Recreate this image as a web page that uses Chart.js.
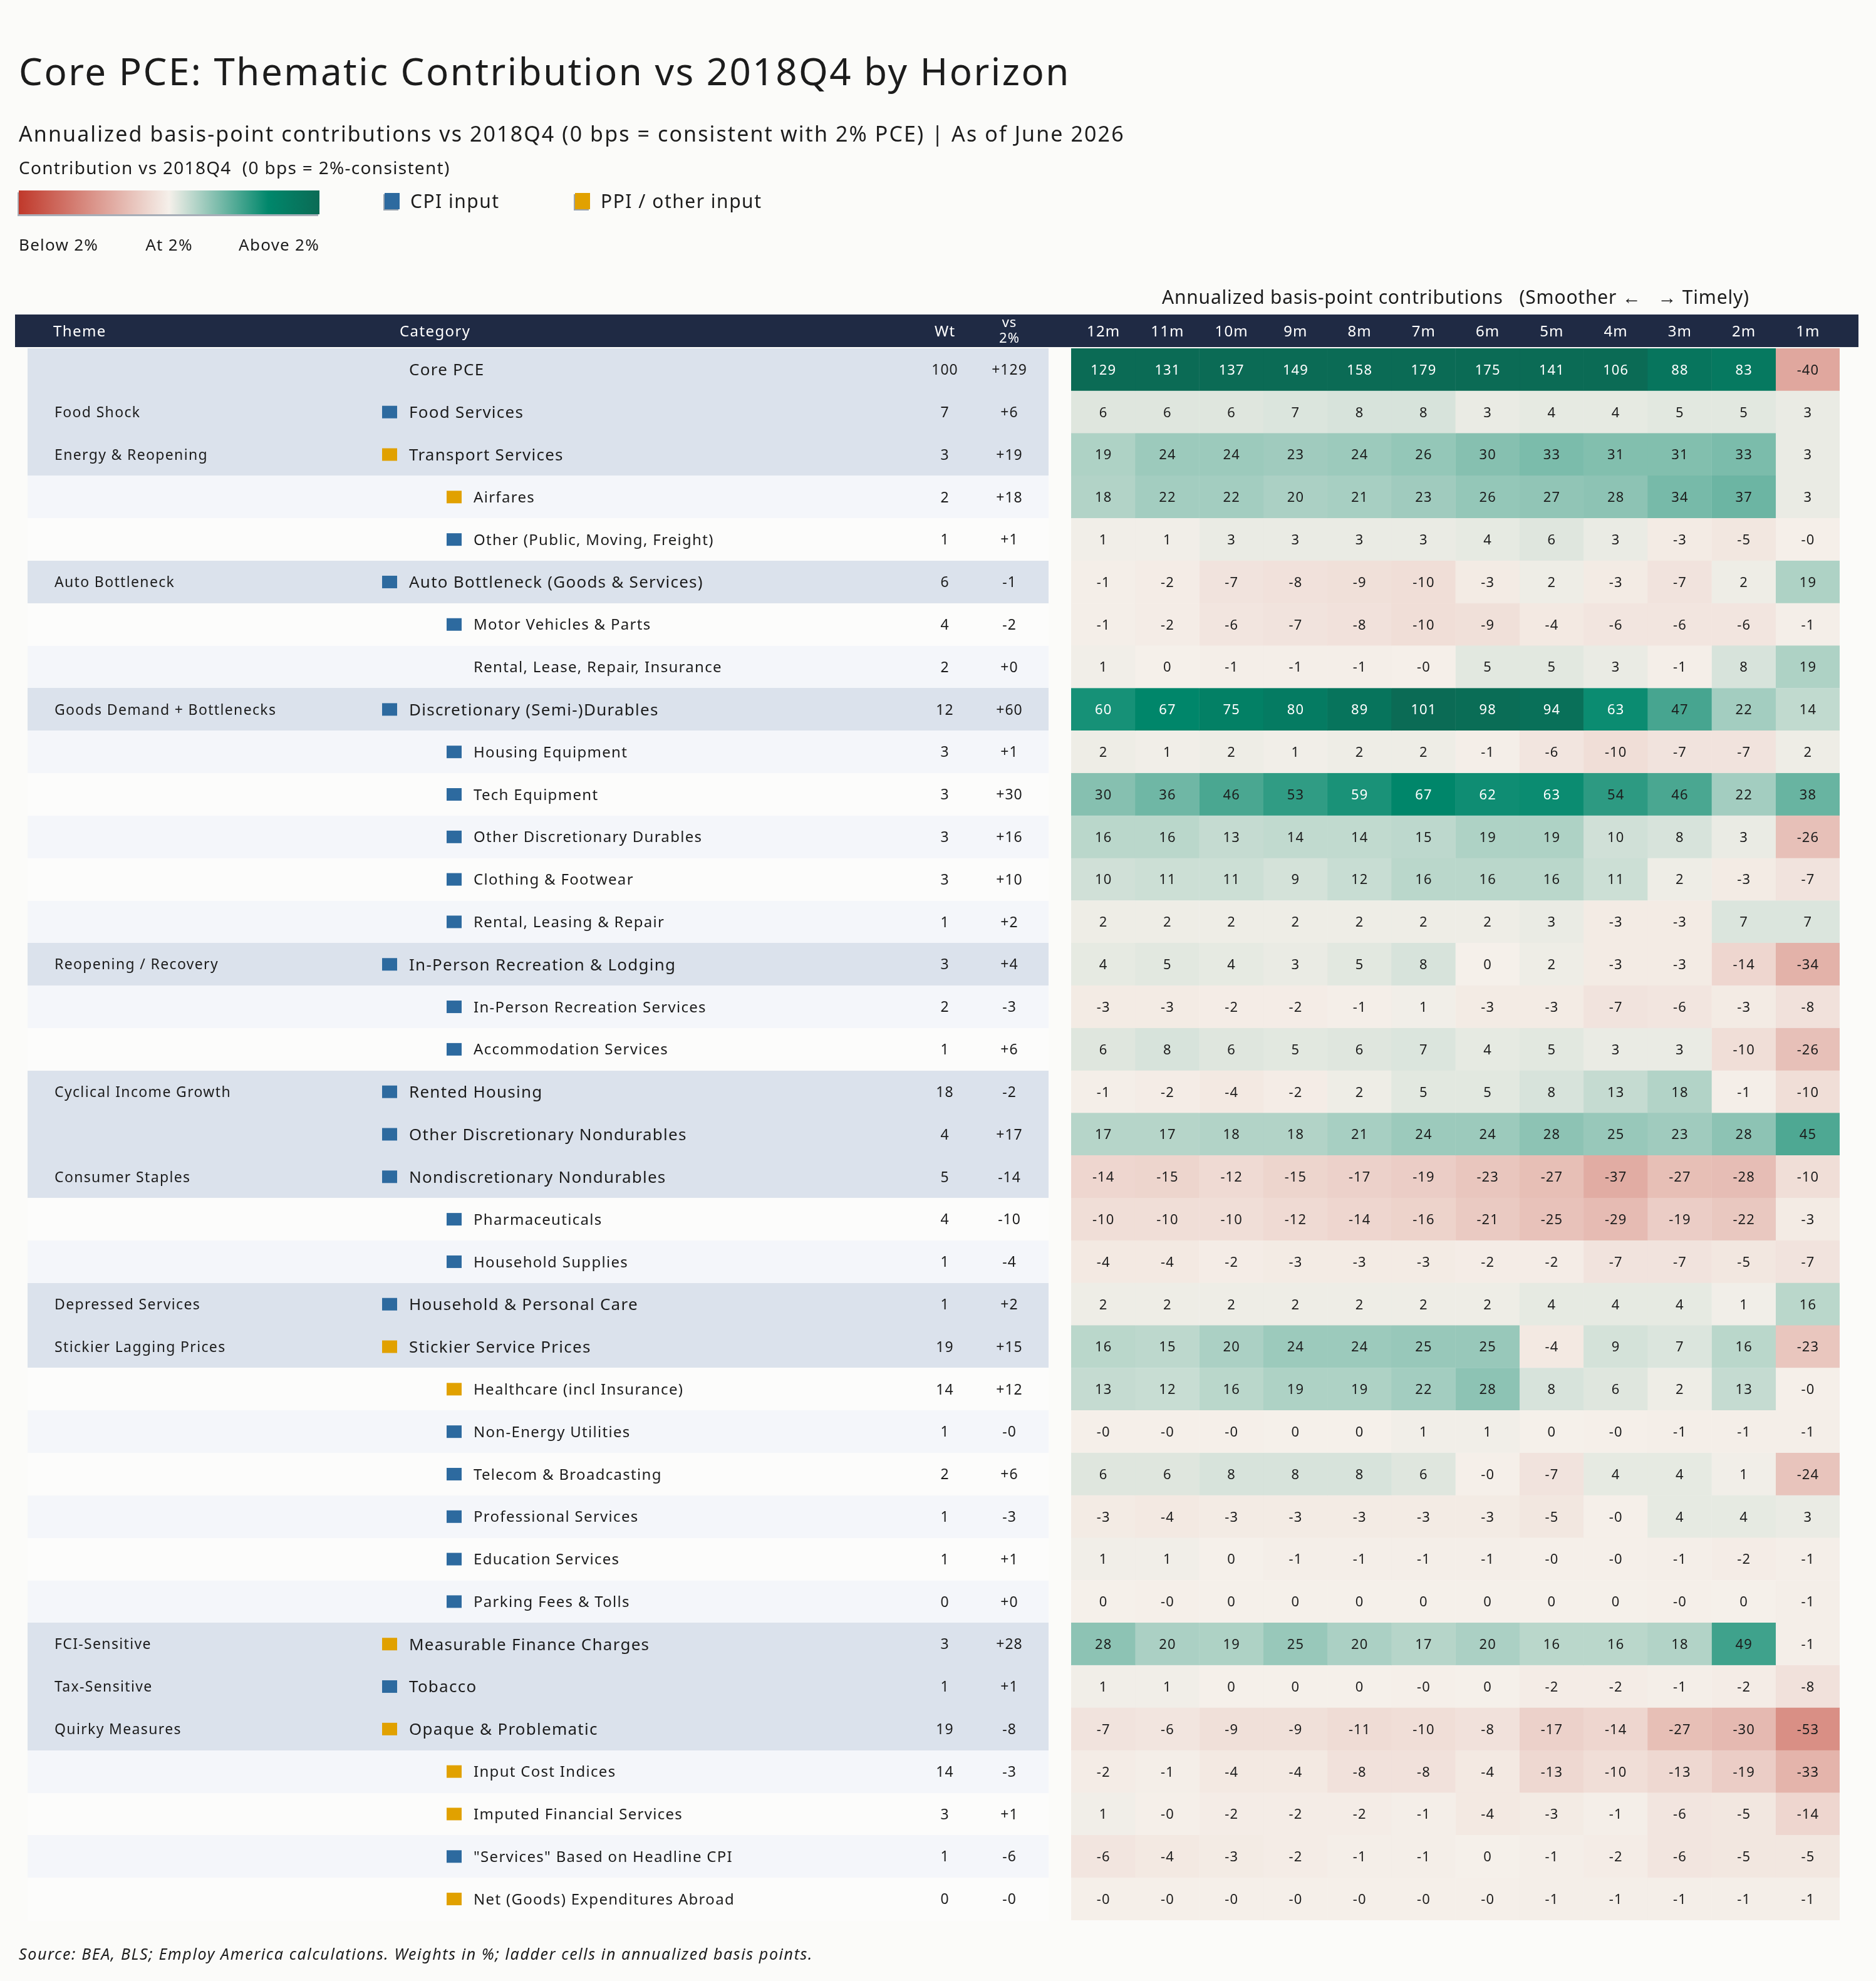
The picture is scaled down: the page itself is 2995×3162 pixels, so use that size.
<!DOCTYPE html>
<html>
<head>
<meta charset="utf-8">
<script src="https://cdn.jsdelivr.net/npm/chart.js@4/dist/chart.umd.min.js"></script>
<style>
  html,body{margin:0;padding:0;background:#fbfbf9;}
  body{width:2995px;height:3162px;position:relative;overflow:hidden;font-family:'Noto Sans',sans-serif;color:#1c1c1c;}
  canvas{position:absolute;left:0;top:0;}
  .t{position:absolute;white-space:nowrap;}
  .sw{position:absolute;width:24px;height:26px;box-shadow:-2px 2px 0 #9aa3ae;}
</style>
</head>
<body>
<canvas id="c" width="2995" height="3162"></canvas>
<div class="t" style="left:30px;top:83px;font-size:60px;line-height:60px;letter-spacing:2.5px;">Core PCE: Thematic Contribution vs 2018Q4 by Horizon</div>
<div class="t" style="left:30px;top:196px;font-size:34px;line-height:34px;letter-spacing:2.1px;">Annualized basis-point contributions vs 2018Q4 (0 bps = consistent with 2% PCE) | As of June 2026</div>
<div class="t" style="left:30px;top:253px;font-size:28px;line-height:28px;letter-spacing:1.3px;">Contribution vs 2018Q4&nbsp; (0 bps = 2%-consistent)</div>
<div style="position:absolute;left:30px;top:304px;width:480px;height:38px;background:linear-gradient(to right,#c0392b 0%,#f5f0ea 50%,#00876b 83%,#0b6b55 100%);box-shadow:-2px 3px 0 #a7aeb8;"></div>
<div class="sw" style="left:614px;top:308px;background:#2d6a9f;"></div>
<div class="t" style="left:655px;top:306px;font-size:30px;line-height:30px;letter-spacing:1.5px;">CPI input</div>
<div class="sw" style="left:918px;top:308px;background:#e1a100;"></div>
<div class="t" style="left:959px;top:306px;font-size:30px;line-height:30px;letter-spacing:1.5px;">PPI / other input</div>
<div class="t" style="left:30px;top:377px;font-size:26px;line-height:26px;letter-spacing:1.25px;">Below 2%</div>
<div class="t" style="left:270px;top:377px;font-size:26px;line-height:26px;letter-spacing:1.25px;transform:translateX(-50%);">At 2%</div>
<div class="t" style="left:510px;top:377px;font-size:26px;line-height:26px;letter-spacing:1.25px;transform:translateX(-100%);">Above 2%</div>
<div class="t" style="left:30px;top:3106px;font-size:25px;line-height:25px;font-style:italic;letter-spacing:1.6px;">Source: BEA, BLS; Employ America calculations. Weights in %; ladder cells in annualized basis points.</div>
<script>
const HORIZONS = ['12m','11m','10m','9m','8m','7m','6m','5m','4m','3m','2m','1m'];
const THEMES = ['', 'Food Shock', 'Energy & Reopening', '', '', 'Auto Bottleneck', '', '', 'Goods Demand + Bottlenecks', '', '', '', '', '', 'Reopening / Recovery', '', '', 'Cyclical Income Growth', '', 'Consumer Staples', '', '', 'Depressed Services', 'Stickier Lagging Prices', '', '', '', '', '', '', 'FCI-Sensitive', 'Tax-Sensitive', 'Quirky Measures', '', '', '', ''];
const CATEGORIES = ['Core PCE', 'Food Services', 'Transport Services', 'Airfares', 'Other (Public, Moving, Freight)', 'Auto Bottleneck (Goods & Services)', 'Motor Vehicles & Parts', 'Rental, Lease, Repair, Insurance', 'Discretionary (Semi-)Durables', 'Housing Equipment', 'Tech Equipment', 'Other Discretionary Durables', 'Clothing & Footwear', 'Rental, Leasing & Repair', 'In-Person Recreation & Lodging', 'In-Person Recreation Services', 'Accommodation Services', 'Rented Housing', 'Other Discretionary Nondurables', 'Nondiscretionary Nondurables', 'Pharmaceuticals', 'Household Supplies', 'Household & Personal Care', 'Stickier Service Prices', 'Healthcare (incl Insurance)', 'Non-Energy Utilities', 'Telecom & Broadcasting', 'Professional Services', 'Education Services', 'Parking Fees & Tolls', 'Measurable Finance Charges', 'Tobacco', 'Opaque & Problematic', 'Input Cost Indices', 'Imputed Financial Services', '"Services" Based on Headline CPI', 'Net (Goods) Expenditures Abroad'];
const LEVELS = [0,0,0,1,1,0,1,1,0,1,1,1,1,1,0,1,1,0,0,0,1,1,0,0,1,1,1,1,1,1,0,0,0,1,1,1,1];
const INPUTS = ['', 'cpi', 'ppi', 'ppi', 'cpi', 'cpi', 'cpi', '', 'cpi', 'cpi', 'cpi', 'cpi', 'cpi', 'cpi', 'cpi', 'cpi', 'cpi', 'cpi', 'cpi', 'cpi', 'cpi', 'cpi', 'cpi', 'ppi', 'ppi', 'cpi', 'cpi', 'cpi', 'cpi', 'cpi', 'ppi', 'cpi', 'ppi', 'ppi', 'ppi', 'cpi', 'ppi'];
const WEIGHTS = [100,7,3,2,1,6,4,2,12,3,3,3,3,1,3,2,1,18,4,5,4,1,1,19,14,1,2,1,1,0,3,1,19,14,3,1,0];
const VS2 = ['+129','+6','+19','+18','+1','-1','-2','+0','+60','+1','+30','+16','+10','+2','+4','-3','+6','-2','+17','-14','-10','-4','+2','+15','+12','-0','+6','-3','+1','+0','+28','+1','-8','-3','+1','-6','-0'];
const LADDER = [
  [129,131,137,149,158,179,175,141,106,88,83,-40],
  [6,6,6,7,8,8,3,4,4,5,5,3],
  [19,24,24,23,24,26,30,33,31,31,33,3],
  [18,22,22,20,21,23,26,27,28,34,37,3],
  [1,1,3,3,3,3,4,6,3,-3,-5,-0],
  [-1,-2,-7,-8,-9,-10,-3,2,-3,-7,2,19],
  [-1,-2,-6,-7,-8,-10,-9,-4,-6,-6,-6,-1],
  [1,0,-1,-1,-1,-0,5,5,3,-1,8,19],
  [60,67,75,80,89,101,98,94,63,47,22,14],
  [2,1,2,1,2,2,-1,-6,-10,-7,-7,2],
  [30,36,46,53,59,67,62,63,54,46,22,38],
  [16,16,13,14,14,15,19,19,10,8,3,-26],
  [10,11,11,9,12,16,16,16,11,2,-3,-7],
  [2,2,2,2,2,2,2,3,-3,-3,7,7],
  [4,5,4,3,5,8,0,2,-3,-3,-14,-34],
  [-3,-3,-2,-2,-1,1,-3,-3,-7,-6,-3,-8],
  [6,8,6,5,6,7,4,5,3,3,-10,-26],
  [-1,-2,-4,-2,2,5,5,8,13,18,-1,-10],
  [17,17,18,18,21,24,24,28,25,23,28,45],
  [-14,-15,-12,-15,-17,-19,-23,-27,-37,-27,-28,-10],
  [-10,-10,-10,-12,-14,-16,-21,-25,-29,-19,-22,-3],
  [-4,-4,-2,-3,-3,-3,-2,-2,-7,-7,-5,-7],
  [2,2,2,2,2,2,2,4,4,4,1,16],
  [16,15,20,24,24,25,25,-4,9,7,16,-23],
  [13,12,16,19,19,22,28,8,6,2,13,-0],
  [-0,-0,-0,0,0,1,1,0,-0,-1,-1,-1],
  [6,6,8,8,8,6,-0,-7,4,4,1,-24],
  [-3,-4,-3,-3,-3,-3,-3,-5,-0,4,4,3],
  [1,1,0,-1,-1,-1,-1,-0,-0,-1,-2,-1],
  [0,-0,0,0,0,0,0,0,0,-0,0,-1],
  [28,20,19,25,20,17,20,16,16,18,49,-1],
  [1,1,0,0,0,-0,0,-2,-2,-1,-2,-8],
  [-7,-6,-9,-9,-11,-10,-8,-17,-14,-27,-30,-53],
  [-2,-1,-4,-4,-8,-8,-4,-13,-10,-13,-19,-33],
  [1,-0,-2,-2,-2,-1,-4,-3,-1,-6,-5,-14],
  [-6,-4,-3,-2,-1,-1,0,-1,-2,-6,-5,-5],
  [-0,-0,-0,-0,-0,-0,-0,-1,-1,-1,-1,-1]
];

const FONT = "'Noto Sans', sans-serif";
const CREAM=[245,240,234], RED=[192,57,43], GREEN=[0,135,107], DARK=[11,107,85];
function lerp(a,b,t){return a.map((v,i)=>Math.round(v+(b[i]-v)*t));}
function cellColor(v){
  let c;
  if (v < 0 || Object.is(v,-0)) c = lerp(CREAM, RED, Math.min(1, Math.max(0.004,-v/100)));
  else if (v <= 66) c = lerp(CREAM, GREEN, v/66);
  else c = lerp(GREEN, DARK, Math.min(1,(v-66)/34));
  return 'rgb('+c.join(',')+')';
}
function fmt(v){return Object.is(v,-0) ? '-0' : String(v);}

const datasets = HORIZONS.map((h,hi)=>({
  label: h,
  data: CATEGORIES.map(()=>[hi, hi+1]),
  backgroundColor: LADDER.map(r=>cellColor(r[hi])),
  borderColor: LADDER.map(r=>cellColor(r[hi])),
  borderWidth: 0.6,
  borderSkipped: false,
  barPercentage: 1,
  categoryPercentage: 1,
  grouped: false
}));

function txt(ctx, s, x, yc, size, align, color, ls, style){
  ctx.font = (style||'') + ' ' + size + 'px ' + FONT;
  ctx.textAlign = align;
  ctx.fillStyle = color;
  ctx.textBaseline = 'alphabetic';
  ls = ls || 0;
  if ('letterSpacing' in ctx) ctx.letterSpacing = ls + 'px';
  const dx = align === 'center' ? ls/2 : 0;
  ctx.fillText(s, x + dx, yc + size*0.357);
}

const tablePlugin = {
  id: 'tableDraw',
  beforeDatasetsDraw(chart){
    const {ctx, chartArea, scales:{y}} = chart;
    const rowH = (chartArea.bottom - chartArea.top) / CATEGORIES.length;
    ctx.save();
    ctx.fillStyle = '#1f2a44';
    ctx.fillRect(24, chartArea.top - 54, 2967 - 24, 52);
    CATEGORIES.forEach((c,i)=>{
      const yc = y.getPixelForValue(i);
      ctx.fillStyle = LEVELS[i]===0 ? '#dbe2ec' : (i%2===1 ? '#f4f6fa' : '#fcfcfb');
      ctx.fillRect(44, Math.round(yc - rowH/2), 1674-44, Math.ceil(rowH)+1);
    });
    ctx.restore();
  },
  afterDatasetsDraw(chart){
    const {ctx, chartArea, scales:{x,y}} = chart;
    ctx.save();
    const hy = chartArea.top - 28;
    txt(ctx, 'Theme', 85, hy, 24, 'left', '#ffffff', 1.4);
    txt(ctx, 'Category', 638, hy, 24, 'left', '#ffffff', 1.4);
    txt(ctx, 'Wt', 1508, hy, 24, 'center', '#ffffff', 1.2);
    txt(ctx, 'vs', 1611, chartArea.top - 42, 22, 'center', '#ffffff', 1);
    txt(ctx, '2%', 1611, chartArea.top - 17, 22, 'center', '#ffffff', 1);
    HORIZONS.forEach((h,hi)=>{
      txt(ctx, h, x.getPixelForValue(hi+0.5), hy, 24, 'center', '#ffffff', 1.2);
    });
    txt(ctx, 'Annualized basis-point contributions   (Smoother \u2190   \u2192 Timely)', (chartArea.left+chartArea.right)/2, chartArea.top - 82, 30, 'center', '#1c1c1c', 0.8);
    CATEGORIES.forEach((c,i)=>{
      const yc = y.getPixelForValue(i);
      if (THEMES[i]) txt(ctx, THEMES[i], 87, yc, 23, 'left', '#1c1c1c', 1.35);
      const parent = LEVELS[i]===0;
      const mx = parent ? 610 : 713;
      const tx = parent ? 653 : 756;
      if (INPUTS[i]) {
        ctx.fillStyle = INPUTS[i]==='cpi' ? '#2d6a9f' : '#e1a100';
        ctx.fillRect(mx, yc - 10, 24, 20);
      }
      txt(ctx, c, tx, yc, parent ? 26 : 24, 'left', '#1c1c1c', parent ? 1.25 : 1.3);
      txt(ctx, String(WEIGHTS[i]), 1508, yc, 23, 'center', '#1c1c1c', 1);
      txt(ctx, VS2[i], 1611, yc, 23, 'center', '#1c1c1c', 1);
      LADDER[i].forEach((v,hi)=>{
        txt(ctx, fmt(v), x.getPixelForValue(hi+0.5), yc, 22, 'center', v >= 56 ? '#ffffff' : '#1c1c1c', 1);
      });
    });
    ctx.restore();
  }
};

new Chart(document.getElementById('c'), {
  type: 'bar',
  data: { labels: CATEGORIES, datasets },
  options: {
    indexAxis: 'y',
    responsive: false,
    devicePixelRatio: 1,
    animation: false,
    layout: { padding: { left: 1710, right: 58, top: 556, bottom: 97 } },
    scales: {
      x: { type: 'linear', min: 0, max: 12, display: false },
      y: { type: 'category', display: false, offset: true }
    },
    plugins: { legend: { display: false }, tooltip: { enabled: false }, title: { display: false } }
  },
  plugins: [tablePlugin]
});
</script>
</body>
</html>
